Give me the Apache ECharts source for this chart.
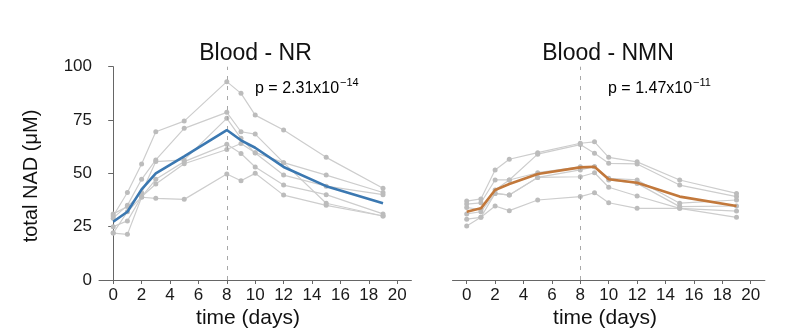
<!DOCTYPE html>
<html>
<head>
<meta charset="utf-8">
<script src="https://cdn.jsdelivr.net/npm/echarts@6/dist/echarts.min.js"></script>
<style>
html,body{margin:0;padding:0;background:#fff;}
#chart{width:794px;height:335px;}
</style>
</head>
<body>
<div id="chart"></div>
<script>
// ---- data ----
const days = [0, 1, 2, 3, 5, 8, 9, 10, 12, 15, 19];
const xTicks = [0, 2, 4, 6, 8, 10, 12, 14, 16, 18, 20];
const yTicks = [0, 25, 50, 75, 100];

const nr1 = [30.0, 41.0, 54.4, 69.5, 74.5, 93.0, 87.5, 77.3, 70.3, 57.5, 43.0];
const nr2 = [29.0, 35.0, 47.2, 56.3, 71.1, 78.6, 69.5, 68.4, 55.0, 49.2, 41.0];
const nr3 = [31.0, 34.4, 40.9, 55.5, 56.3, 75.8, 66.4, 59.5, 49.2, 44.0, 40.0];
const nr4 = [25.0, 27.7, 39.0, 47.2, 55.5, 63.6, 59.3, 53.0, 44.5, 40.0, 31.0];
const nr5 = [22.0, 32.0, 39.0, 45.0, 54.5, 61.2, 64.0, 59.7, 55.0, 36.0, 30.0];
const nr6 = [22.0, 21.4, 38.8, 38.3, 37.8, 49.7, 46.5, 50.0, 39.8, 35.0, 30.0];
const nrMean = [27.3, 32.0, 42.5, 50.0, 58.0, 70.3, 65.5, 62.0, 53.0, 44.0, 36.0];

const nmn1 = [37.0, 38.0, 51.6, 56.6, 59.7, 64.1, 64.8, 57.5, 55.4, 46.9, 40.6];
const nmn2 = [35.6, 36.2, 46.9, 46.9, 59.0, 63.5, 59.4, 54.7, 54.4, 44.5, 39.1];
const nmn3 = [34.0, 33.0, 42.2, 46.9, 50.3, 53.1, 53.1, 47.7, 46.9, 36.0, 37.5];
const nmn4 = [31.0, 32.0, 40.6, 39.8, 48.1, 51.6, 53.1, 46.9, 45.3, 34.4, 34.7];
const nmn5 = [28.5, 29.4, 40.6, 39.8, 48.1, 48.4, 50.3, 43.5, 39.4, 33.6, 32.3];
const nmn6 = [25.3, 29.4, 34.7, 32.5, 37.5, 39.1, 40.9, 36.2, 33.6, 33.6, 29.4];
const nmnMean = [32.0, 33.6, 42.2, 45.0, 49.7, 52.8, 53.1, 47.2, 45.6, 39.1, 34.7];

const titles = ['Blood - NR', 'Blood - NMN'];
const pMain = ['p = 2.31x10', 'p = 1.47x10'];
const pExp = ['\u221214', '\u221211'];
const xName = 'time (days)';
const yName = 'total NAD (\u03bcM)';
const markDay = 8;

// ---- chart ----
const FONT = '"Liberation Sans", Arial, sans-serif';
const pair = arr => days.map((d, i) => [d, arr[i]]);

function subjectSeries(arr, idx) {
  return {
    type: 'line', xAxisIndex: idx, yAxisIndex: idx, data: pair(arr),
    symbol: 'circle', symbolSize: 5, showSymbol: true,
    lineStyle: { color: '#cdcdcd', width: 1.2 },
    itemStyle: { color: '#bcbcbc' },
    z: 2, silent: true, animation: false
  };
}
function meanSeries(arr, idx, color) {
  return {
    type: 'line', xAxisIndex: idx, yAxisIndex: idx, data: pair(arr),
    symbol: 'none', lineStyle: { color: color, width: 2.6 },
    z: 5, silent: true, animation: false
  };
}
function markSeries(idx) {
  return {
    type: 'line', xAxisIndex: idx, yAxisIndex: idx, data: [],
    markLine: {
      silent: true, symbol: 'none', label: { show: false },
      lineStyle: { color: '#a8a8a8', type: [4, 6], width: 1 },
      data: [{ xAxis: markDay }]
    },
    animation: false
  };
}
function xAxis(idx) {
  return {
    type: 'value', gridIndex: idx, min: -1, max: 21,
    axisLine: { show: true, lineStyle: { color: '#666', width: 1 } },
    axisTick: { show: true, length: 4, inside: false, customValues: xTicks, lineStyle: { color: '#666' } },
    axisLabel: { customValues: xTicks, fontSize: 17, color: '#1a1a1a', fontFamily: FONT, margin: 7 },
    splitLine: { show: false }
  };
}
function pText(i, x) {
  return { type: 'text', x: x, y: 87, silent: true,
    style: { text: '{a|' + pMain[i] + '}{b|' + pExp[i] + '}', textVerticalAlign: 'middle',
      rich: { a: { fontSize: 16, fontFamily: FONT, color: '#111', lineHeight: 20, verticalAlign: 'bottom' },
              b: { fontSize: 11, fontFamily: FONT, color: '#111', verticalAlign: 'top', lineHeight: 11, padding: [0, 0, 0, 1] } } } };
}
function plainText(txt, x, y, size, rot) {
  return { type: 'text', x: x, y: y, rotation: rot || 0, silent: true,
    style: { text: txt, font: size + 'px ' + FONT, fill: '#111', textAlign: 'center', textVerticalAlign: 'middle' } };
}

const option = {
  animation: false,
  grid: [
    { left: 99, top: 66.7, width: 312.4, height: 213.3 },
    { left: 452.5, top: 66.7, width: 312.4, height: 213.3 }
  ],
  xAxis: [xAxis(0), xAxis(1)],
  yAxis: [
    {
      type: 'value', gridIndex: 0, min: 0, max: 100, interval: 25,
      axisLine: { show: true, lineStyle: { color: '#666', width: 1 } },
      axisTick: { show: true, length: 5, lineStyle: { color: '#666' } },
      axisLabel: { fontSize: 17, color: '#1a1a1a', fontFamily: FONT, margin: 7,
        formatter: v => yTicks.indexOf(v) >= 0 ? String(v) : '' },
      splitLine: { show: false }
    },
    { type: 'value', gridIndex: 1, min: 0, max: 100, show: false, splitLine: { show: false } }
  ],
  graphic: [
    plainText(titles[0], 255.5, 53.5, 23),
    plainText(titles[1], 608, 53.5, 23),
    pText(0, 255),
    pText(1, 608),
    plainText(xName, 248, 318, 21),
    plainText(xName, 605, 318, 21),
    plainText(yName, 31, 176, 20, Math.PI / 2)
  ],
  series: [
    markSeries(0), markSeries(1),
    subjectSeries(nr1, 0), subjectSeries(nr2, 0), subjectSeries(nr3, 0),
    subjectSeries(nr4, 0), subjectSeries(nr5, 0), subjectSeries(nr6, 0),
    meanSeries(nrMean, 0, '#3b78b1'),
    subjectSeries(nmn1, 1), subjectSeries(nmn2, 1), subjectSeries(nmn3, 1),
    subjectSeries(nmn4, 1), subjectSeries(nmn5, 1), subjectSeries(nmn6, 1),
    meanSeries(nmnMean, 1, '#c2783b')
  ]
};

const chart = echarts.init(document.getElementById('chart'), null, { renderer: 'canvas' });
chart.setOption(option);
</script>
</body>
</html>
